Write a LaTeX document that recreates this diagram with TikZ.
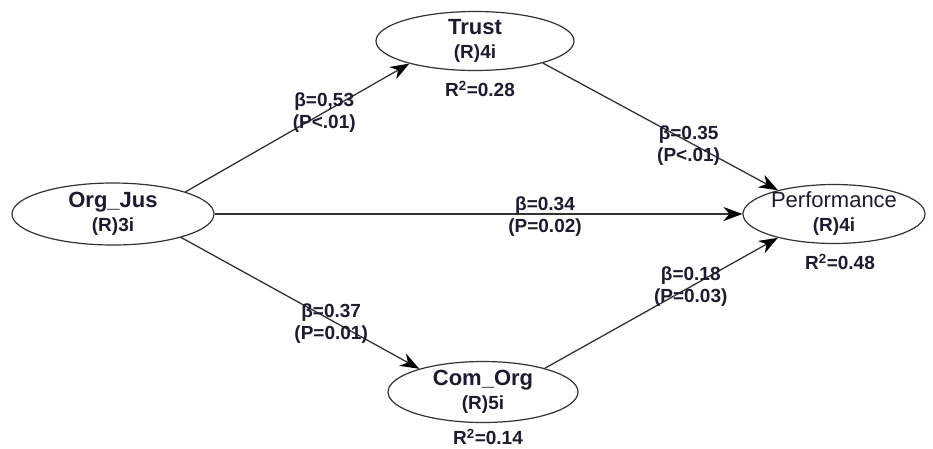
\documentclass[tikz,border=0pt]{standalone}
\usepackage{fontspec}
\setmainfont{Liberation Sans}
\usepackage{xcolor}
\usepackage{tikz}
\usetikzlibrary{shapes.geometric, arrows.meta, positioning}
\definecolor{txt}{RGB}{28,28,48}
\definecolor{edgegray}{RGB}{50,50,50}
\newcommand{\subsize}{\fontsize{19}{24}\selectfont}
\tikzset{
  latent/.style={ellipse, draw=edgegray, line width=1.2pt, inner xsep=0pt, inner ysep=-2pt, align=center, text=txt, font=\fontsize{22}{24}\selectfont\bfseries},
  coef/.style={align=center, inner sep=0pt, text=txt, font=\fontsize{19}{22}\selectfont\bfseries},
  rsq/.style={inner sep=1pt, text=txt, font=\fontsize{19}{22}\selectfont\bfseries},
  link/.style={draw=edgegray, line width=1.3pt, -{Stealth[length=19pt, width=14pt, inset=6pt, color=black]}}
}

\begin{document}
\begin{tikzpicture}[x=1pt, y=-1pt, node distance=9pt]
\fill[white] (0,0) rectangle (933,448);
\useasboundingbox (0,0) rectangle (933,448);

% Latent variables
\node[latent, minimum width=202pt, minimum height=62pt] (orgjus) at (113,214) {Org\_Jus\\\subsize (R)3i};
\node[latent, minimum width=198pt, minimum height=59pt] (trust) at (475,41) {Trust\\\subsize (R)4i};
\node[latent, minimum width=182pt, minimum height=59pt] (perf) at (834,214) {\mdseries Performance\\\bfseries\subsize (R)4i};
\node[latent, minimum width=190pt, minimum height=61pt] (comorg) at (483,392) {Com\_Org\\\subsize (R)5i};

% R-squared
\node[rsq, below=of trust, xshift=5pt] (r2trust) {R\textsuperscript{2}=0.28};
\node[rsq, below=of perf, xshift=6pt] (r2perf) {R\textsuperscript{2}=0.48};
\node[rsq, below=5pt of comorg, xshift=5pt] (r2comorg) {R\textsuperscript{2}=0.14};

% Paths
\draw[link] (orgjus.17) -- node[coef, pos=0.62] (b1) {β=0,53\\(P<.01)} (trust.199);
\draw[link] (trust.-18) -- node[coef, pos=0.62, yshift=-4pt] (b2) {β=0.35\\(P<.01)} (perf.157);
\draw[link] (orgjus.east) -- node[coef, pos=0.626, yshift=-3pt] (b3) {β=0.34\\(P=0.02)} (perf.west);
\draw[link] (orgjus.-19) -- node[coef, pos=0.63, yshift=-3pt] (b4) {β=0.37\\(P=0.01)} (comorg.160);
\draw[link] (comorg.21) -- node[coef, pos=0.626] (b5) {β=0.18\\(P=0.03)} (perf.203);
\end{tikzpicture}
\end{document}
